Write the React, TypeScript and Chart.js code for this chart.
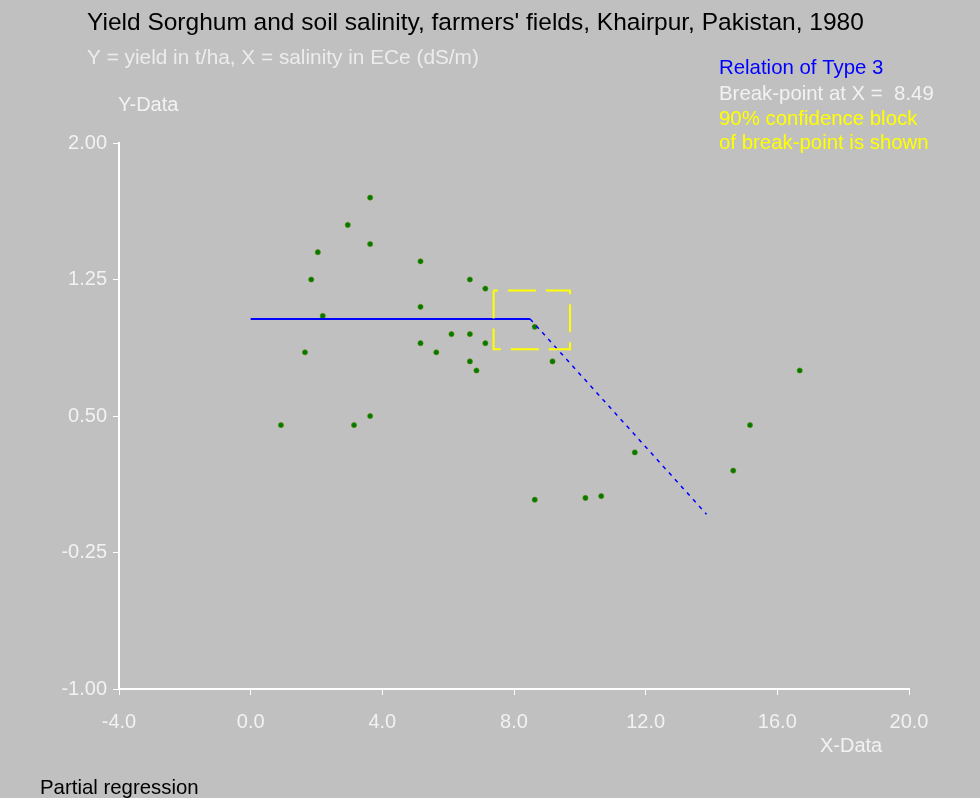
import React, { useEffect, useRef } from 'react';
import { Chart, registerables } from 'chart.js';

Chart.register(...registerables);

// Observed data: salinity (ECe, dS/m) vs sorghum yield (t/ha)
const salinityX = [
  0.92, 1.65, 1.84, 2.04, 2.19, 2.95, 3.14, 3.63, 3.63, 3.63,
  5.16, 5.16, 5.16, 5.64, 6.10, 6.66, 6.66, 6.66, 6.86, 7.13,
  7.13, 8.63, 8.63, 9.17, 10.17, 10.65, 11.67, 14.66, 15.17, 16.68,
];
const yieldY = [
  0.45, 0.85, 1.25, 1.40, 1.05, 1.55, 0.45, 1.70, 1.445, 0.50,
  1.35, 1.10, 0.90, 0.85, 0.95, 1.25, 0.95, 0.80, 0.75, 1.20,
  0.90, 0.99, 0.04, 0.80, 0.05, 0.06, 0.30, 0.20, 0.45, 0.75,
];

// Fitted relation of type 3 (horizontal then declining)
const breakPoint = 8.49;
const plateauX = [0, breakPoint];
const plateauY = [1.033, 1.033];
const slopeX = [breakPoint, 13.85];
const slopeY = [1.033, -0.04];

// 90% confidence block of break-point
const blockX = [7.38, 9.70];
const blockY = [0.867, 1.19];

const xTickValues = [-4, 0, 4, 8, 12, 16, 20];
const yTickValues = [-1, -0.25, 0.5, 1.25, 2];

const FONT = '"Liberation Sans", Arial, sans-serif';

export default function App() {
  const ref = useRef<HTMLCanvasElement | null>(null);

  useEffect(() => {
    document.body.style.margin = '0';
    const canvas = ref.current;
    if (!canvas) return;

    const points = salinityX.map((x, i) => ({ x, y: yieldY[i] }));
    const plateau = plateauX.map((x, i) => ({ x, y: plateauY[i] }));
    const slope = slopeX.map((x, i) => ({ x, y: slopeY[i] }));
    const block = [
      { x: blockX[0], y: blockY[1] },
      { x: blockX[0], y: blockY[0] },
      { x: blockX[1], y: blockY[0] },
      { x: blockX[1], y: blockY[1] },
      { x: blockX[0], y: blockY[1] },
    ];

    const textPlugin = {
      id: 'texts',
      beforeDraw(chart: any) {
        const ctx = chart.ctx;
        ctx.save();
        ctx.fillStyle = '#c0c0c0';
        ctx.fillRect(0, 0, chart.width, chart.height);
        ctx.restore();
      },
      afterDraw(chart: any) {
        const ctx = chart.ctx;
        ctx.save();
        ctx.textBaseline = 'middle';
        ctx.textAlign = 'left';
        const t = (s: string, x: number, y: number, size: number, color: string) => {
          ctx.font = `${size}px ${FONT}`;
          ctx.fillStyle = color;
          ctx.fillText(s, x, y);
        };
        t("Yield Sorghum and soil salinity, farmers' fields, Khairpur, Pakistan, 1980", 87, 23, 24.5, '#000000');
        t('Y = yield in t/ha, X = salinity in ECe (dS/m)', 87, 58, 20.8, '#ececec');
        t('Y-Data', 118, 105, 20, '#f2f2f2');
        t('Relation of Type 3', 719, 68, 20.4, '#0000ff');
        t('Break-point at X =  8.49', 719, 94, 20.4, '#f2f2f2');
        t('90% confidence block', 719, 119, 20.4, '#ffff00');
        t("of break-point is shown", 719, 143, 20.4, '#ffff00');
        t('X-Data', 820, 746, 20, '#f2f2f2');
        t('Partial regression', 40, 788, 20.4, '#000000');
        ctx.restore();
      },
    };

    const chart = new Chart(canvas, {
      type: 'scatter',
      data: {
        datasets: [
          {
            label: 'block',
            data: block,
            showLine: true,
            borderColor: '#ffff00',
            borderWidth: 2,
            borderDash: [28, 10],
            pointRadius: 0,
            fill: false,
          } as any,
          {
            label: 'plateau',
            data: plateau,
            showLine: true,
            borderColor: '#0000ff',
            borderWidth: 2,
            pointRadius: 0,
            fill: false,
          } as any,
          {
            label: 'slope',
            data: slope,
            showLine: true,
            borderColor: '#0000ff',
            borderWidth: 1.5,
            borderDash: [4, 5],
            pointRadius: 0,
            fill: false,
          } as any,
          {
            label: 'observations',
            data: points,
            backgroundColor: '#007a00',
            borderColor: '#5e8a00',
            borderWidth: 0.6,
            pointRadius: 2.6,
          } as any,
        ],
      },
      options: {
        responsive: false,
        animation: false,
        layout: { padding: { top: 143, right: 71, left: 0, bottom: 0 } },
        plugins: {
          legend: { display: false },
          tooltip: { enabled: false },
          title: { display: false },
        },
        scales: {
          x: {
            type: 'linear',
            min: -4,
            max: 20,
            afterBuildTicks: (scale: any) => {
              scale.ticks = xTickValues.map((v) => ({ value: v }));
            },
            afterFit: (scale: any) => {
              scale.height = 109;
            },
            ticks: {
              color: '#f2f2f2',
              font: { family: FONT, size: 20 },
              padding: 15,
              maxRotation: 0,
              callback: (v: any) => Number(v).toFixed(1),
            },
            grid: {
              display: true,
              drawOnChartArea: false,
              drawTicks: true,
              tickLength: 6,
              color: '#ffffff',
              lineWidth: 1,
            },
            border: { display: true, color: '#ffffff', width: 2 },
          },
          y: {
            type: 'linear',
            min: -1,
            max: 2,
            afterBuildTicks: (scale: any) => {
              scale.ticks = yTickValues.map((v) => ({ value: v }));
            },
            afterFit: (scale: any) => {
              scale.width = 119;
            },
            ticks: {
              color: '#f2f2f2',
              font: { family: FONT, size: 20 },
              padding: 6,
              callback: (v: any) => Number(v).toFixed(2),
            },
            grid: {
              display: true,
              drawOnChartArea: false,
              drawTicks: true,
              tickLength: 6,
              color: '#ffffff',
              lineWidth: 1,
            },
            border: { display: true, color: '#ffffff', width: 2 },
          },
        },
      },
      plugins: [textPlugin],
    } as any);

    return () => chart.destroy();
  }, []);

  return (
    <div style={{ position: 'fixed', left: 0, top: 0, width: 980, height: 798, background: '#c0c0c0' }}>
      <canvas ref={ref} width={980} height={798} style={{ width: 980, height: 798, display: 'block' }} />
    </div>
  );
}
